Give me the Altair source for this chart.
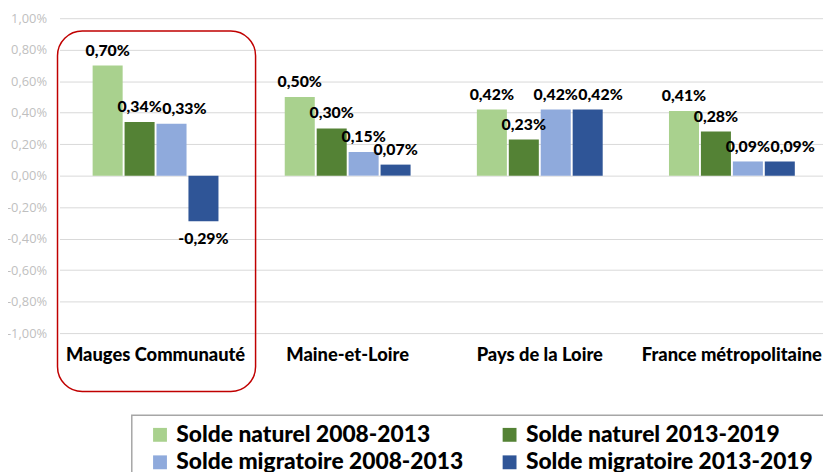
import altair as alt
import pandas as pd

categories = ["Mauges Communauté", "Maine-et-Loire", "Pays de la Loire", "France métropolitaine"]
series = ["Solde naturel 2008-2013", "Solde naturel 2013-2019",
          "Solde migratoire 2008-2013", "Solde migratoire 2013-2019"]
colors = ["#a9d18e", "#548235", "#8faadc", "#2f5597"]

naturel_0813 = [0.70, 0.50, 0.42, 0.41]
naturel_1319 = [0.34, 0.30, 0.23, 0.28]
migratoire_0813 = [0.33, 0.15, 0.42, 0.09]
migratoire_1319 = [-0.29, 0.07, 0.42, 0.09]

y_ticks = [-1.0, -0.8, -0.6, -0.4, -0.2, 0.0, 0.2, 0.4, 0.6, 0.8, 1.0]

all_series = [naturel_0813, naturel_1319, migratoire_0813, migratoire_1319]

# simple label collision avoidance (like the spreadsheet's nudged labels):
# when two neighbouring labels sit at nearly the same height, push the right one aside
PX_PER_UNIT = 159.0   # plot height / y-range
BAR_STEP = 32.0
LABEL_W = 45.0
LABEL_H = 12.0
nudges = {}
for ci, c in enumerate(categories):
    prev_v, prev_shift = None, 0.0
    for si in range(len(series)):
        v = all_series[si][ci]
        shift = 0.0
        if prev_v is not None and v >= 0 and prev_v >= 0 and abs(v - prev_v) * PX_PER_UNIT < LABEL_H:
            shift = max(0.0, LABEL_W - BAR_STEP - 0 + prev_shift)
        nudges[(si, ci)] = shift
        prev_v, prev_shift = v, shift

rows = []
for si, (s, vals) in enumerate(zip(series, all_series)):
    for ci, (c, v) in enumerate(zip(categories, vals)):
        rows.append({"cat": c, "serie": s, "val": v, "nudge": nudges[(si, ci)],
                     "label": f"{v:.2f}%".replace(".", ",")})
df = pd.DataFrame(rows)

FONT = "Lato"
W = 900

x_enc = alt.X("cat:N", sort=categories, title=None,
              scale=alt.Scale(range=[0, 776], paddingInner=0.345, paddingOuter=0.1725),
              axis=alt.Axis(labelFont=FONT, labelFontWeight=W, labelFontSize=18.5,
                            labelColor="#000000", labelPadding=13, ticks=False,
                            domain=False, labelAngle=0, labelLimit=300))
xo_enc = alt.XOffset("serie:N", sort=series, scale=alt.Scale(paddingInner=0.06, paddingOuter=0))
y_enc = alt.Y("val:Q", title=None,
              scale=alt.Scale(domain=[-1.0, 1.0], nice=False),
              axis=alt.Axis(values=y_ticks, labelExpr="replace(replace(format(datum.value, '.2f'), '.', ','), '\u2212', '-') + '%'",
                            labelFont="Open Sans", labelFontSize=13, labelColor="#bfbfbf",
                            labelPadding=13, ticks=False, domain=False, labelOverlap=False,
                            gridColor="#d9d9d9", gridWidth=1))

color_enc = alt.Color("serie:N", sort=series,
                      scale=alt.Scale(domain=series, range=colors),
                      legend=alt.Legend(title=None, orient="none", legendX=90, legendY=409,
                                        columns=2, direction="horizontal",
                                        labelFont=FONT, labelFontWeight=W, labelFontSize=23,
                                        labelColor="#000000", symbolType="square", symbolSize=196,
                                        symbolStrokeWidth=0, labelOffset=5, columnPadding=35,
                                        rowPadding=4, labelLimit=400))

base = alt.Chart(df).encode(x=x_enc, xOffset=xo_enc, y=y_enc)

bars = base.mark_bar().encode(color=color_enc)

pos_labels = base.transform_filter("datum.val >= 0").mark_text(
    font=FONT, fontWeight=W, fontSize=16, color="#000000",
    baseline="alphabetic", dy=-10, dx=alt.expr("datum.nudge")
).encode(text="label:N")

neg_labels = base.transform_filter("datum.val < 0").mark_text(
    font=FONT, fontWeight=W, fontSize=16, color="#000000",
    baseline="top", dy=10
).encode(text="label:N")

highlight = alt.Chart(pd.DataFrame({"k": [0]})).mark_rect(
    fill=None, stroke="#c00000", strokeWidth=1.5, cornerRadius=25
).encode(x=alt.value(-2), x2=alt.value(198), y=alt.value(13), y2=alt.value(377))

legend_box = alt.Chart(pd.DataFrame({"k": [0]})).mark_rect(
    fill=None, stroke="#a6a6a6", strokeWidth=1.5
).encode(x=alt.value(73), x2=alt.value(790), y=alt.value(401), y2=alt.value(470))

chart = alt.layer(bars, pos_labels, neg_labels, highlight, legend_box).properties(
    width=771, height=318,
    autosize=alt.AutoSizeParams(type="none"),
    padding={"left": 52, "top": 8, "right": 0, "bottom": 138}
).configure_view(stroke=None).configure_legend(padding=0).configure_axisY(labelOverlap=False)

chart.save("out.html", embed_options={"renderer": "svg", "actions": False})
